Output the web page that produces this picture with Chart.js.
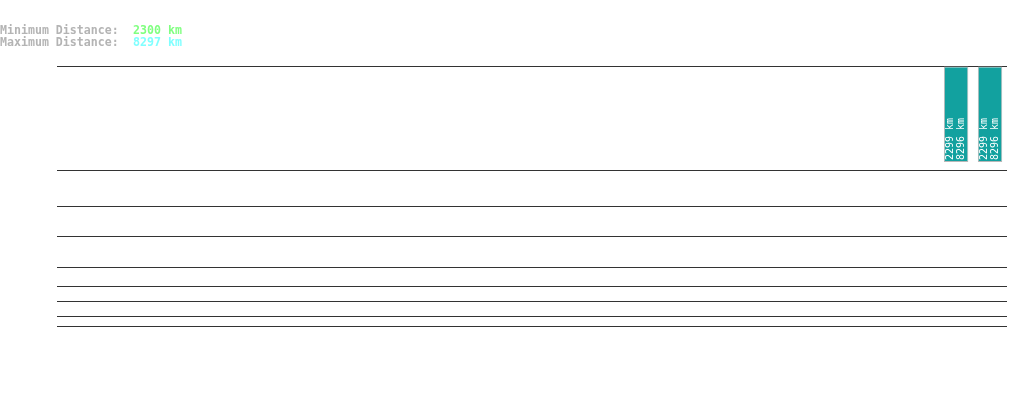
<!DOCTYPE html>
<html>
<head>
<meta charset="utf-8">
<script src="https://cdn.jsdelivr.net/npm/chart.js@4/dist/chart.umd.min.js"></script>
<style>
  html, body { margin: 0; padding: 0; background: #fff; }
  #wrap { position: relative; width: 1019px; height: 402px; }
</style>
</head>
<body>
<div id="wrap"><canvas id="distChart"></canvas></div>
<script>
// Categories along the x axis (only the last two carry a bar)
const categories = Array.from({ length: 28 }, (_, i) => String(i + 1));

// Bar lengths (axis units, axis grows downward from the top line)
const barValues = [
  null, null, null, null, null, null, null, null, null, null,
  null, null, null, null, null, null, null, null, null, null,
  null, null, null, null, null, null, 96, 96,
];

// Per-bar labels
const minLabels = [2299, 2299];
const maxLabels = [8296, 8296];

// Header summary
const minDistance = 2300;
const maxDistance = 8297;

// Horizontal reference lines (axis values)
const gridValues = [0, 104, 140, 170, 201, 220, 235, 250, 260];

const MONO = '"DejaVu Sans Mono", "Liberation Mono", monospace';

// Header text: "Minimum Distance:  2300 km" etc.
const headerPlugin = {
  id: 'header',
  afterDraw(chart) {
    const ctx = chart.ctx;
    ctx.save();
    ctx.font = 'bold 11.6px ' + MONO;
    ctx.textAlign = 'left';
    ctx.textBaseline = 'middle';
    ctx.fillStyle = '#b4b4b4';
    ctx.fillText('Minimum Distance:', 0, 31);
    ctx.fillText('Maximum Distance:', 0, 43);
    ctx.fillStyle = '#80ff80';
    ctx.fillText(minDistance + ' km', 133, 31);
    ctx.fillStyle = '#80ffff';
    ctx.fillText(maxDistance + ' km', 133, 43);
    ctx.restore();
  },
};

// Rotated labels inside each bar
const barLabelPlugin = {
  id: 'barLabels',
  afterDatasetsDraw(chart) {
    const ctx = chart.ctx;
    const meta = chart.getDatasetMeta(0);
    let k = 0;
    meta.data.forEach((bar, index) => {
      if (barValues[index] == null) return;
      const bottom = Math.max(bar.y, bar.base);
      ctx.save();
      ctx.font = '10px ' + MONO;
      ctx.fillStyle = '#ffffff';
      ctx.textAlign = 'left';
      ctx.textBaseline = 'middle';
      ctx.translate(bar.x, bottom - 2);
      ctx.rotate(-Math.PI / 2);
      ctx.fillText(minLabels[k] + ' km', 0, -5.5);
      ctx.fillText(maxLabels[k] + ' km', 0, 5.5);
      ctx.restore();
      k++;
    });
  },
};

new Chart(document.getElementById('distChart'), {
  type: 'bar',
  data: {
    labels: categories,
    datasets: [
      {
        data: barValues,
        backgroundColor: '#12a19f',
        borderColor: '#b8b8b8',
        borderWidth: 1,
        borderSkipped: false,
      },
    ],
  },
  options: {
    responsive: true,
    maintainAspectRatio: false,
    animation: false,
    layout: {
      padding: { left: 57, right: 12, top: 66, bottom: 76 },
    },
    plugins: {
      legend: { display: false },
      tooltip: { enabled: false },
    },
    scales: {
      x: {
        display: false,
      },
      y: {
        reverse: true,
        min: 0,
        max: 260,
        afterBuildTicks(axis) {
          axis.ticks = gridValues.map((v) => ({ value: v }));
        },
        ticks: { display: false },
        grid: {
          color: '#333333',
          lineWidth: 1,
          drawTicks: false,
        },
        border: { display: false },
      },
    },
  },
  plugins: [headerPlugin, barLabelPlugin],
});
</script>
</body>
</html>
